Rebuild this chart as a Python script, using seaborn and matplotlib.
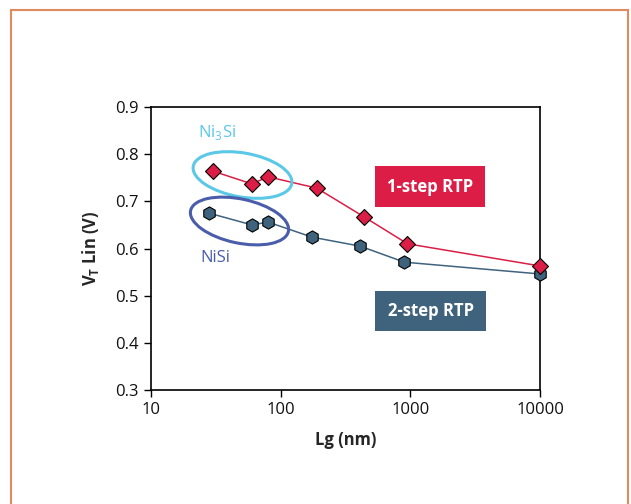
import matplotlib
matplotlib.use("Agg")
import matplotlib.pyplot as plt
from matplotlib.patches import Ellipse, Rectangle
import numpy as np
import pandas as pd
import seaborn as sns

# data
lg_1step = [30, 60, 80, 190, 440, 950, 10000]
vt_1step = [0.764, 0.737, 0.752, 0.728, 0.667, 0.610, 0.563]
lg_2step = [28, 60, 80, 175, 410, 900, 10000]
vt_2step = [0.675, 0.650, 0.656, 0.624, 0.605, 0.571, 0.546]
x_ticks = [10, 100, 1000, 10000]
y_ticks = [0.3, 0.4, 0.5, 0.6, 0.7, 0.8, 0.9]

red = "#DC1E46"
slate = "#3F637D"
light_blue = "#5BC8E8"
dark_blue = "#4A5DAA"

sns.set_theme(style="white")
plt.rcParams['font.family'] = ['Open Sans', 'DejaVu Sans']
plt.rcParams['mathtext.fontset'] = 'custom'
plt.rcParams['mathtext.rm'] = 'Open Sans'
plt.rcParams['mathtext.bf'] = 'Open Sans:bold'

fig = plt.figure(figsize=(6.31, 5.04), dpi=100)
ax = fig.add_axes([151/631, 1 - 390/504, 389/631, 283/504])

df1 = pd.DataFrame({'Lg': lg_1step, 'VT': vt_1step})
df2 = pd.DataFrame({'Lg': lg_2step, 'VT': vt_2step})

sns.lineplot(data=df1, x='Lg', y='VT', ax=ax, color=red, linewidth=1.1,
             marker='D', markersize=8.5, markerfacecolor=red,
             markeredgecolor='black', markeredgewidth=0.8, zorder=4, clip_on=False)
sns.lineplot(data=df2, x='Lg', y='VT', ax=ax, color=slate, linewidth=1.1,
             marker='h', markersize=9.5, markerfacecolor=slate,
             markeredgecolor='black', markeredgewidth=0.8, zorder=3, clip_on=False)

ax.set_xscale('log')
ax.set_xlim(10, 10000)
ax.set_ylim(0.3, 0.9)
ax.set_xticks(x_ticks)
ax.set_xticklabels([str(t) for t in x_ticks])
ax.minorticks_off()
ax.set_yticks(y_ticks)
ax.set_yticklabels([f"{t:.1f}" for t in y_ticks])
ax.tick_params(axis='both', which='major', labelsize=12, length=5, width=1,
               direction='out', color='black', labelcolor='#111111', pad=4,
               left=True, bottom=True, right=False, top=False)
for s in ax.spines.values():
    s.set_color('black')
    s.set_linewidth(1.2)

ax.set_xlabel('Lg (nm)', fontsize=12, fontweight='bold', labelpad=9)
ax.set_ylabel(r'$\mathbf{V_T}$ Lin (V)', fontsize=12, fontweight='bold', labelpad=10)

# ellipses around the short-gate points (drawn in inches so they stay round)
fig.add_artist(Ellipse((242.5/100, (504 - 175)/100), 1.00, 0.44, angle=-10,
                       transform=fig.dpi_scale_trans, fill=False,
                       edgecolor=light_blue, linewidth=2.2, zorder=5))
fig.add_artist(Ellipse((239.5/100, (504 - 221)/100), 1.00, 0.44, angle=-12,
                       transform=fig.dpi_scale_trans, fill=False,
                       edgecolor=dark_blue, linewidth=2.2, zorder=5))

fig.text(217/631, 1 - 132/504, r'Ni$_3$Si', color=light_blue, fontsize=12,
         ha='center', va='center')
fig.text(215/631, 1 - 258/504, 'NiSi', color=dark_blue, fontsize=12,
         ha='center', va='center')

# labelled boxes
for (x0, y0, x1, y1), label, col in [((375, 166, 485, 207), '1-step RTP', red),
                                     ((375, 291, 486, 331), '2-step RTP', slate)]:
    fig.add_artist(Rectangle((x0/631, 1 - y1/504), (x1 - x0)/631, (y1 - y0)/504,
                             transform=fig.transFigure, facecolor=col,
                             edgecolor='none', zorder=5))
    fig.text((x0 + x1)/2/631, 1 - (y0 + y1)/2/504, label, color='white',
             fontsize=12, fontweight='bold', ha='center', va='center', zorder=6)

# outer frame
fig.add_artist(Rectangle((11/631, -0.05), (628 - 11)/631, 1 - 10/504 + 0.05,
                         transform=fig.transFigure, fill=False,
                         edgecolor='#E08A60', linewidth=1.5, zorder=10))

fig.savefig('out.png', dpi=100)
